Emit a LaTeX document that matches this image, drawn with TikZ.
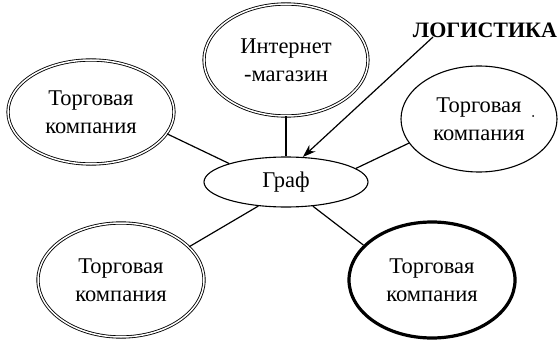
\documentclass[tikz,border=0pt]{standalone}
\usepackage{fontspec}
\setmainfont{Liberation Serif}
\usetikzlibrary{shapes.geometric,arrows.meta}
\begin{document}
\begin{tikzpicture}[x=1pt,y=-1pt,
  every node/.style={font=\fontsize{22.5}{28}\selectfont, align=center, inner sep=0pt},
  dbl/.style={ellipse, draw, double, double distance=1.5pt, line width=0.85pt},
  thk/.style={ellipse, draw, line width=3.2pt},
  sgl/.style={ellipse, draw, line width=1.1pt},
  conn/.style={line width=1.2pt}]
\useasboundingbox (0,0) rectangle (559,342);
\node[dbl, minimum width=166pt, minimum height=104pt] (tl) at (91,112) {Торговая\\компания};
\node[dbl, minimum width=164pt, minimum height=112pt] (top) at (286,60) {Интернет\\-магазин};
\node[sgl, minimum width=156pt, minimum height=106pt] (tr) at (479,119) {Торговая\\компания};
\node[sgl, minimum width=164pt, minimum height=50pt] (g) at (286,182) {Граф};
\node[dbl, minimum width=166pt, minimum height=114pt] (bl) at (121,280) {Торговая\\компания};
\node[thk, minimum width=166pt, minimum height=116pt] (br) at (432,280) {Торговая\\компания};
\node[font=\fontsize{22}{27}\selectfont\bfseries] (log) at (485,30) {ЛОГИСТИКА};
\fill (533,116) circle (1pt);
\coordinate (as) at (433,37);
\draw[conn] (tl.-16) -- (g.162);
\draw[conn] (top.-90) -- (g.90);
\draw[conn] (tr.-161) -- (g.11);
\draw[conn] (bl.26) -- (g.221);
\draw[conn] (br.153) -- (g.-42);
\draw[conn, -{Stealth[length=13pt,width=9pt]}] (as) -- (g.56);
\end{tikzpicture}
\end{document}
